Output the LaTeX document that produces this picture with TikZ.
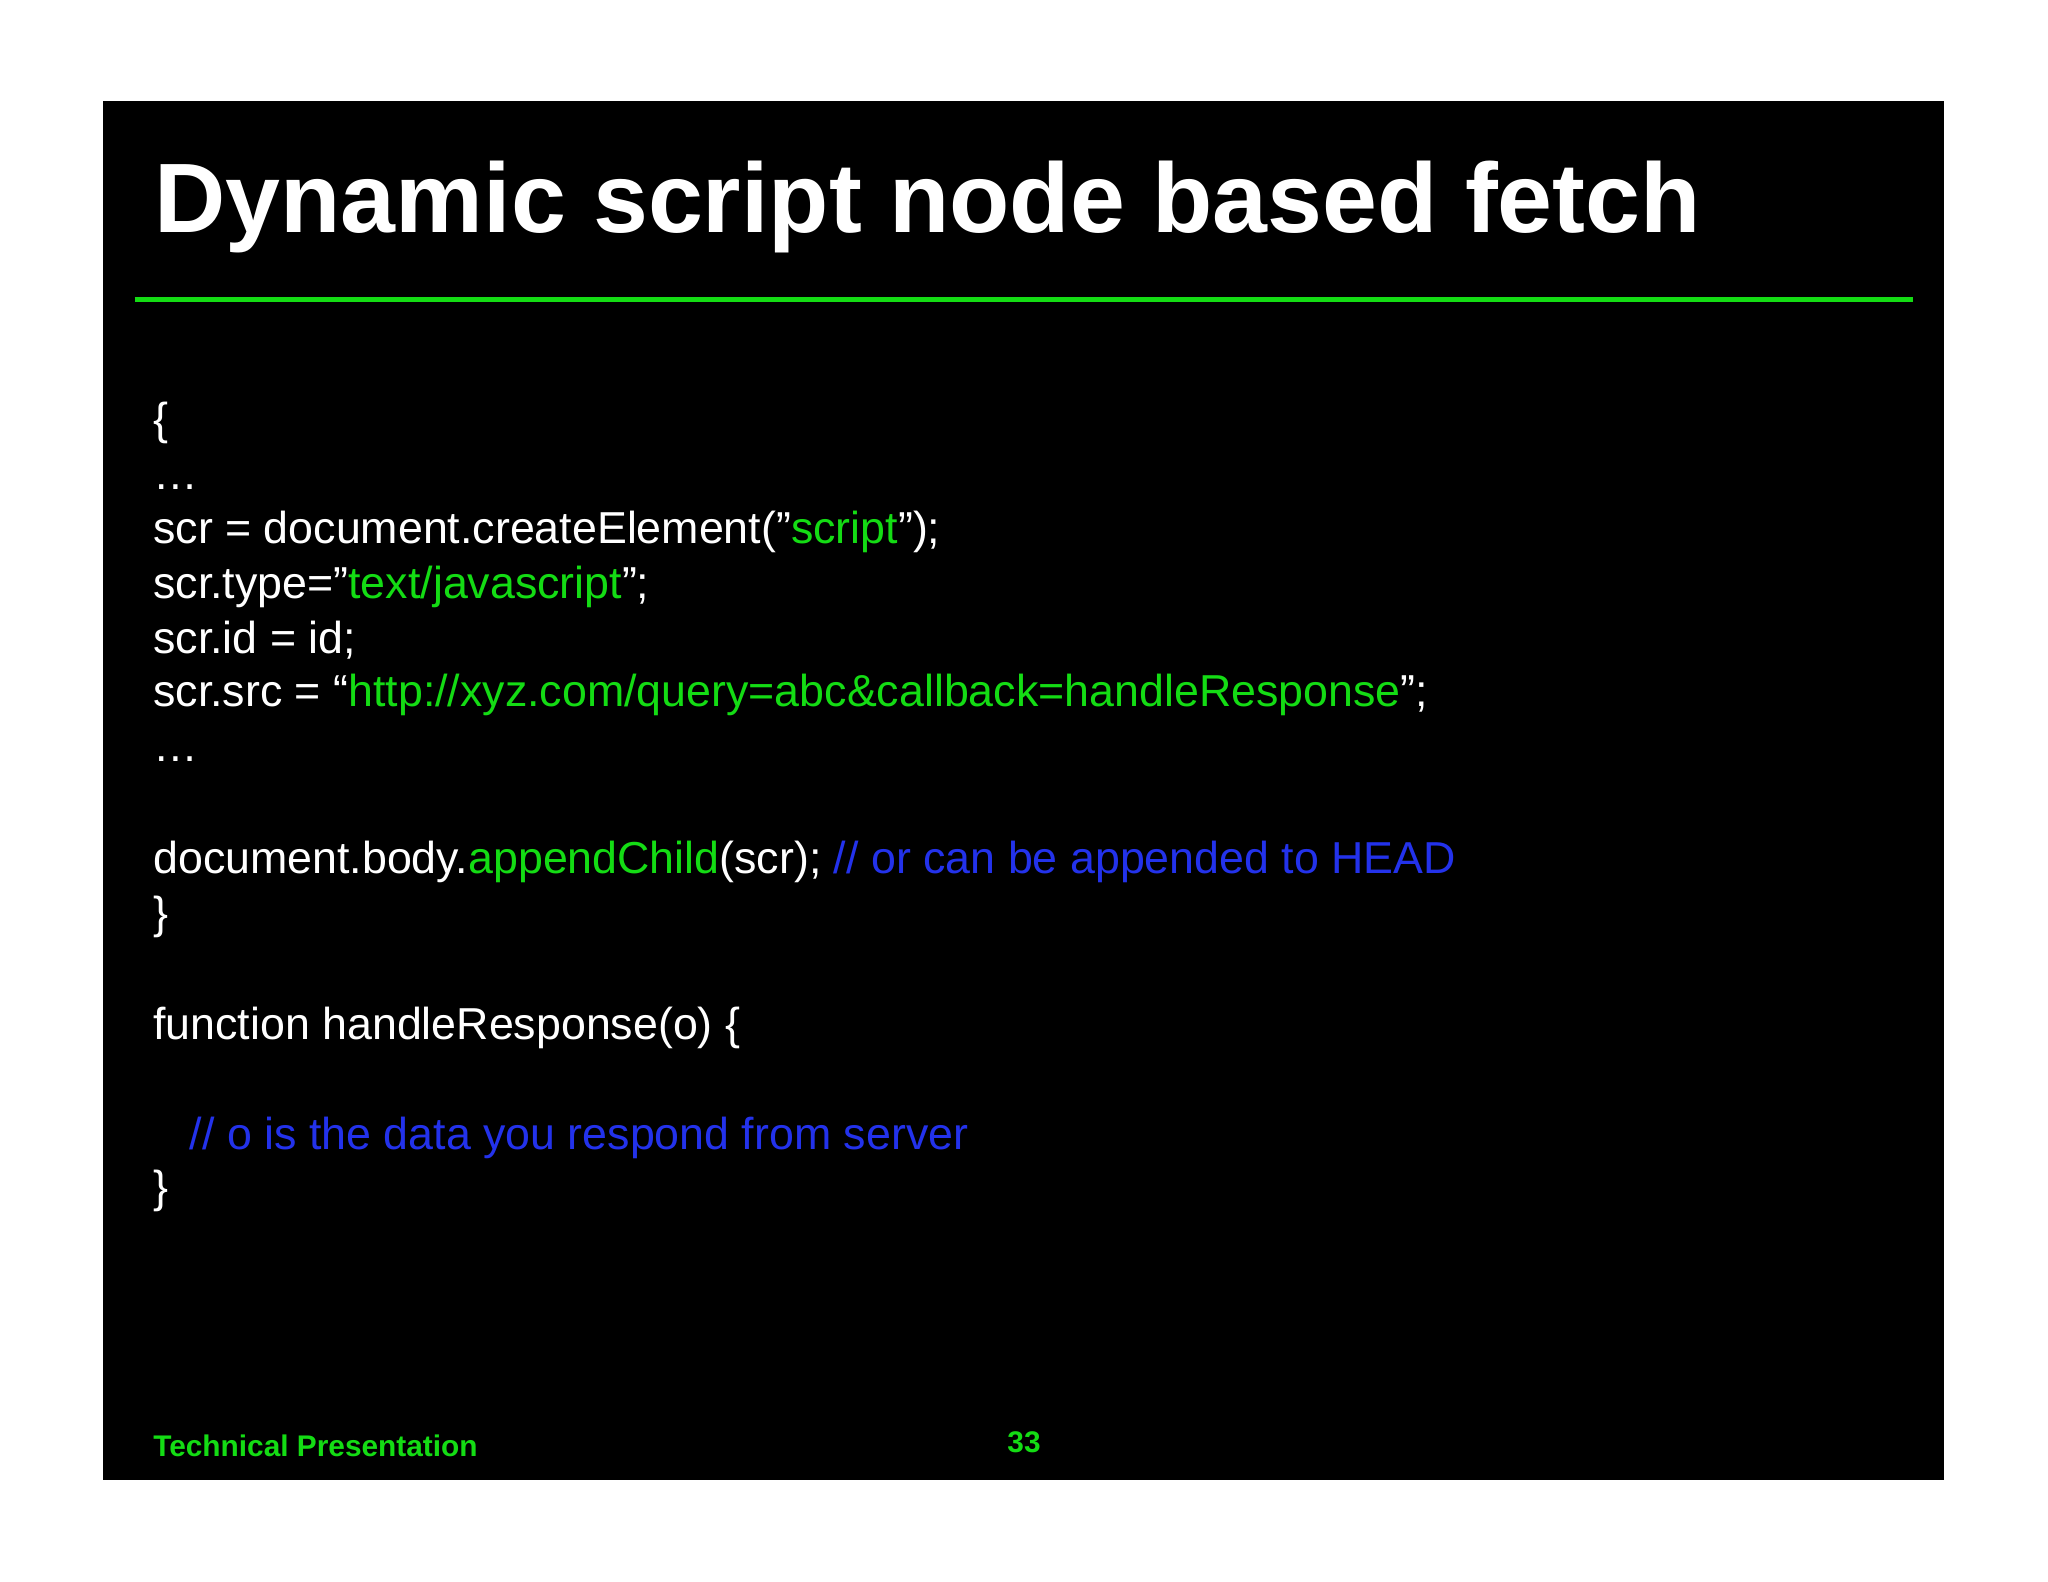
\documentclass[tikz,border=0pt]{standalone}
\usepackage{fontspec}
\setmainfont{Liberation Sans}
\definecolor{cgreen}{RGB}{20,220,20}
\definecolor{cblue}{RGB}{35,50,235}
\begin{document}
\begin{tikzpicture}[x=0.02cm,y=-0.02cm,
  code/.style={anchor=base west,inner sep=0,text=white,font=\fontsize{19.5}{23}\selectfont},
  foot/.style={anchor=base west,inner sep=0,text=cgreen,font=\bfseries\fontsize{13}{15}\selectfont}]
\useasboundingbox (0,0) rectangle (1568,1211);
\fill[white] (0,0) rectangle (1568,1211);
\fill[black] (79,77) rectangle (1488,1133);
\node[anchor=base west,inner sep=0,text=white,font=\bfseries\fontsize{43}{50}\selectfont] (title) at (118,178) {Dynamic script node based fetch};
\draw[cgreen,line width=2.2pt] (103,229) -- (1465,229);
\node[code] (l1) at (117,333) {\{};
\node[code] (l2) at (117,375) {\dots};
\node[code] (l3) at (117,416) {scr = document.createElement("\textcolor{cgreen}{script}");};
\node[code] (l4) at (117,458) {scr.type="\textcolor{cgreen}{text/javascript}”;};
\node[code] (l5) at (117,500) {scr.id = id;};
\node[code] (l6) at (117,541) {scr.src = “\textcolor{cgreen}{http://xyz.com/query=abc\&callback=handleResponse}”;};
\node[code] (l7) at (117,583) {\dots};
\node[code] (l8) at (117,669) {document.body.\textcolor{cgreen}{appendChild}(scr); \textcolor{cblue}{// or can be appended to HEAD}};
\node[code] (l9) at (117,711) {\}};
\node[code] (l10) at (117,796) {function handleResponse(o) \{};
\node[code] (l11) at (145,880) {\textcolor{cblue}{// o is the data you respond from server}};
\node[code] (l12) at (117,921) {\}};
\node[foot] (f1) at (117,1115) {Technical Presentation};
\node[foot,anchor=base] (f2) at (784,1112) {33};
\end{tikzpicture}
\end{document}
